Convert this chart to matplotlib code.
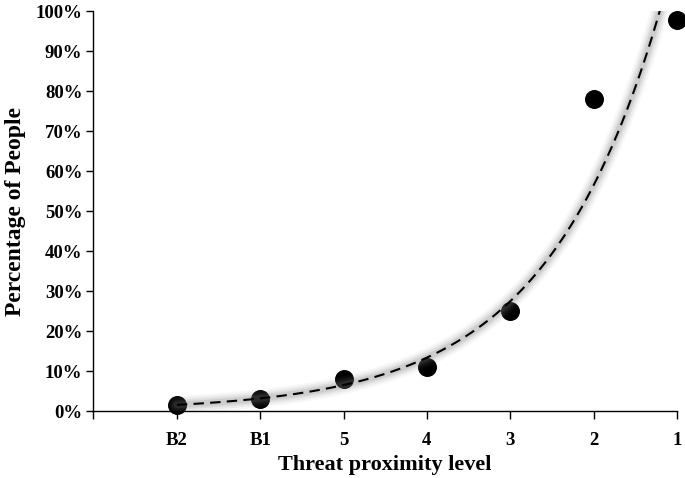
import numpy as np
import matplotlib
matplotlib.use("Agg")
import matplotlib.pyplot as plt
from matplotlib.ticker import FuncFormatter

categories = ["B2", "B1", "5", "4", "3", "2", "1"]
percent_people = [1.5, 3.0, 8.0, 11.0, 25.0, 78.0, 97.75]

plt.rcParams['font.family'] = ['Liberation Serif', 'DejaVu Serif']
plt.rcParams['font.weight'] = 'bold'

W, H = 685, 478
fig = plt.figure(figsize=(W/100, H/100), dpi=100)
ax = fig.add_axes([93.5/W, 1-411/H, (677-93.5)/W, 400/H])

x = np.arange(1, len(categories) + 1)
y = np.array(percent_people)

# exponential trendline fitted from the data (as Excel does)
b, lna = np.polyfit(x, np.log(y), 1)
xs = np.linspace(1, 7, 400)
ys = np.exp(lna) * np.exp(b * xs)

ax.scatter(x, y, s=160, color='black', zorder=3, clip_on=False)
for lw, al in [(13, 0.06), (10, 0.09), (7, 0.12), (4.5, 0.16)]:
    ax.plot(xs, ys, color='#7a7a7a', lw=lw, alpha=al, solid_capstyle='round', zorder=4)
ax.plot(xs, ys, color='black', lw=1.5, ls=(0, (5, 3)), zorder=5)

ax.set_xlim(0, 7)
ax.set_ylim(0, 100)
ax.set_xticks(np.arange(0, 8))
ax.set_xticklabels([""] + categories)
ax.set_yticks(np.arange(0, 101, 10))
ax.yaxis.set_major_formatter(FuncFormatter(lambda v, p: f"{int(v)}%"))

for s in ['top', 'right']:
    ax.spines[s].set_visible(False)
for s in ['left', 'bottom']:
    ax.spines[s].set_linewidth(1.0)

ax.tick_params(axis='x', direction='out', length=6, width=1, labelsize=13.5, pad=9)
ax.tick_params(axis='y', direction='out', length=5, width=1, labelsize=13.5, pad=3)
for lab in ax.get_xticklabels() + ax.get_yticklabels():
    lab.set_fontweight('bold')

fig.text(385/W, 1-465/H, "Threat proximity level", fontsize=16, fontweight='bold',
         ha='center', va='center')
fig.text(16/W, 1-212/H, "Percentage of People", fontsize=17, fontweight='bold',
         ha='center', va='center', rotation=90)

fig.savefig("out.png", dpi=100)
